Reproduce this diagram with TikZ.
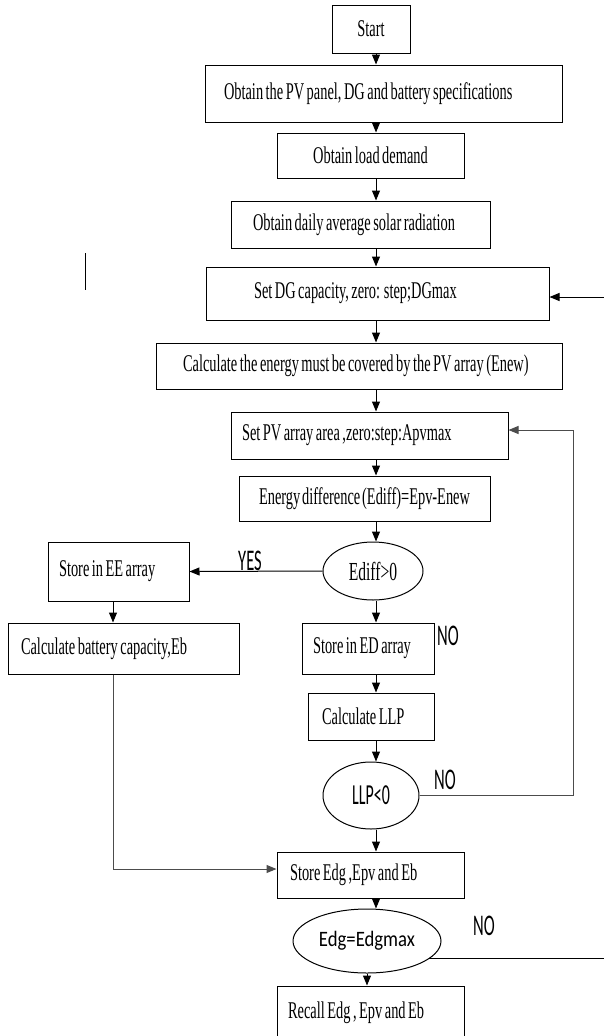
\documentclass[tikz,border=0pt]{standalone}
\usepackage{fontspec}
\setmainfont[FakeStretch=0.6, WordSpace=0.7]{Liberation Serif}
\newfontfamily\lblfont[FakeStretch=0.55]{Carlito}
\newfontfamily\eqfont[FakeStretch=0.85]{Carlito}
\usetikzlibrary{shapes.geometric, arrows.meta}

\tikzset{
  box/.style={draw, line width=1pt, inner ysep=0pt, font=\fontsize{24}{26}\selectfont,
    execute at begin node={\spaceskip=0pt\xspaceskip=0pt\relax}},
  cbox/.style={box, inner xsep=0pt},
  lbox/.style={box, align=left, inner xsep=#1},
  dec/.style={draw, ellipse, line width=1pt, inner sep=0pt},
  lbl/.style={inner sep=0pt, font=\lblfont\fontsize{30}{30}\selectfont},
}

\begin{document}
\begin{tikzpicture}[>={Triangle[length=10pt,width=8pt]}, x=1pt, y=-1pt, line width=1pt]
\clip (0,0) rectangle (604,1036);
% Knoten
\node[cbox, minimum width=78pt, minimum height=48pt] (start) at (371,29) {Start};
\node[lbox=19pt, text width=319pt, minimum height=57pt] (spec) at (383.5,93.5) {Obtain the PV panel, DG and battery specifications};
\node[cbox, minimum width=187pt, minimum height=45pt] (load) at (370.5,155.5) {Obtain load demand};
\node[lbox=22pt, text width=215pt, minimum height=47pt] (solar) at (360.5,224.5) {Obtain daily average solar radiation};
\node[lbox=48pt, text width=247pt, minimum height=53pt] (dgset) at (377.5,293.5) {Set DG capacity, zero: step;DGmax};
\node[lbox=27pt, text width=352pt, minimum height=46pt] (enew) at (359,366) {Calculate the energy must be covered by the PV array (Enew)};
\node[lbox=11pt, text width=255pt, minimum height=47pt] (pvset) at (369.5,435.5) {Set PV\ array area ,zero:step:Apvmax};
\node[lbox=20pt, text width=211pt, minimum height=45pt] (ediffcalc) at (364.5,498.5) {Energy\ difference (Ediff)=Epv-Enew};
\node[dec, minimum width=100pt, minimum height=58pt, font=\fontsize{26}{28}\selectfont] (ediff) at (373,571) {Ediff>0};

\node[lbox=11pt, text width=119pt, minimum height=59pt] (storeEE) at (118.5,571.5) {Store in EE array};
\node[lbox=13pt, text width=205pt, minimum height=51pt] (battery) at (123.5,648.5) {Calculate battery capacity,Eb};

\node[lbox=11pt, text width=110pt, minimum height=51pt] (storeED) at (368,648.5) {Store in ED array};
\node[lbox=14pt, text width=98pt, minimum height=47pt] (llp) at (371,716.5) {Calculate LLP};
\node[dec, minimum width=96pt, minimum height=67pt, font=\lblfont\fontsize{29}{29}\selectfont] (llpcheck) at (371,795.5) {LLP<0};
\node[lbox=13pt, text width=161pt, minimum height=46pt] (store) at (370.5,875) {Store Edg ,Epv and Eb};
\node[dec, minimum width=148pt, minimum height=64pt, font=\eqfont\fontsize{22}{24}\selectfont] (edgcheck) at (367,941) {Edg=Edgmax};
\node[lbox=11pt, text width=165pt, minimum height=54pt] (recall) at (370.5,1013) {Recall Edg , Epv and Eb};

% Beschriftungen
\node[lbl] (noA) at (448,636) {NO};
\node[lbl] (noB) at (445,780) {NO};
\node[lbl] (noC) at (484,926) {NO};

% Hilfspunkte
\coordinate (col)   at (376,0);
\coordinate (loopL) at (113,869);
\coordinate (loopR) at (573,430);
\coordinate (rimA)  at (604,297);
\coordinate (rimB)  at (604,959);

% Hauptpfad
\draw[->] (start.south -| col)     -- (spec.north -| col);
\draw[->] (spec.south -| col)      -- (load.north -| col);
\draw[->] (load.south -| col)      -- (solar.north -| col);
\draw[->] (solar.south -| col)     -- (dgset.north -| col);
\draw[->] (dgset.south -| col)     -- (enew.north -| col);
\draw[->] (enew.south -| col)      -- (pvset.north -| col);
\draw[->] (pvset.south -| col)     -- (ediffcalc.north -| col);
\draw[->] (ediffcalc.south -| col) -- (ediff.north -| col);
\draw[->] (ediff.south -| col)     -- (storeED.north -| col);
\draw[->] (storeED.south -| col)   -- (llp.north -| col);
\draw[->] (llp.south -| col)       -- (llpcheck.north -| col);
\draw[->] (llpcheck.south -| col)  -- (store.north -| col);
\draw[->] (store.south -| col)     -- (edgcheck.north -| col);
\draw[->] (edgcheck.south)         -- (recall.north -| edgcheck.south);

% YES-Zweig
\draw[->] (ediff.west) -- (storeEE.east)
  node[lbl, midway, above, xshift=-6pt] {YES};
\draw[->] (storeEE.south -| loopL) -- (battery.north -| loopL);
\draw[->, black!70] (battery.south -| loopL) -- (loopL) -- (loopL -| store.west);

% Schleifen
\draw[->, black!70] (llpcheck.east) -| (loopR) -- (loopR -| pvset.east);
\draw[->] (rimA) -- (rimA -| dgset.east);
\draw (edgcheck.-16) -- (edgcheck.-16 -| rimB);

% Strich links
\draw (85,253) -- (85,290);

\end{tikzpicture}
\end{document}
